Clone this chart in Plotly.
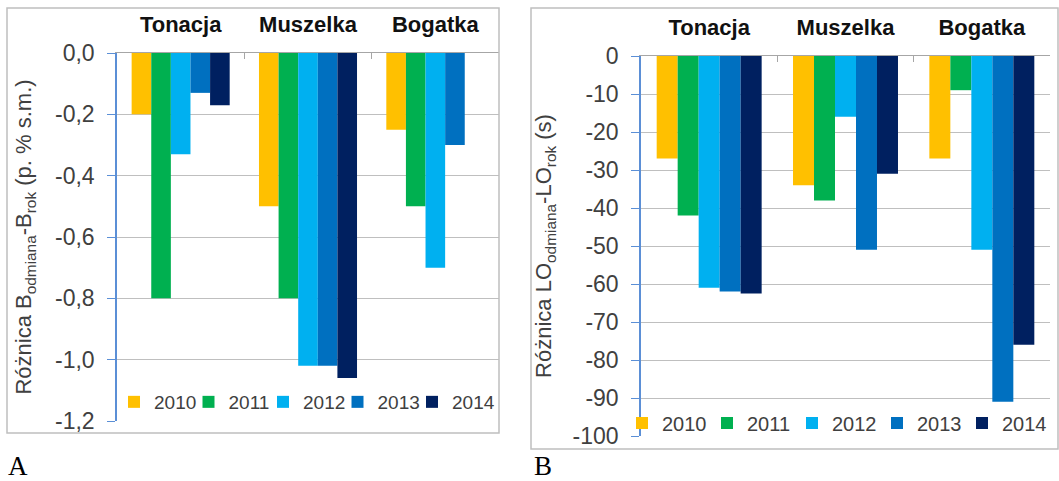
import plotly.graph_objects as go

# ---------------- data ----------------
categories = ["Tonacja", "Muszelka", "Bogatka"]
years = ["2010", "2011", "2012", "2013", "2014"]

# Panel A: Różnica B (p. % s.m.)
a_2010 = [-0.20, -0.50, -0.25]
a_2011 = [-0.80, -0.80, -0.50]
a_2012 = [-0.33, -1.02, -0.70]
a_2013 = [-0.13, -1.02, -0.30]
a_2014 = [-0.17, -1.06, None]

# Panel B: Różnica LO (s)
b_2010 = [-27, -34, -27]
b_2011 = [-42, -38, -9]
b_2012 = [-61, -16, -51]
b_2013 = [-62, -51, -91]
b_2014 = [-62.5, -31, -76]

a_tick_vals = [0, -0.2, -0.4, -0.6, -0.8, -1.0, -1.2]
a_tick_text = ["0,0", "-0,2", "-0,4", "-0,6", "-0,8", "-1,0", "-1,2"]
b_tick_vals = [0, -10, -20, -30, -40, -50, -60, -70, -80, -90, -100]
b_tick_text = ["0", "-10", "-20", "-30", "-40", "-50", "-60", "-70", "-80", "-90", "-100"]

a_title = "Różnica B<sub>odmiana</sub>-B<sub>rok</sub> (p. % s.m.)"
b_title = "Różnica LO<sub>odmiana</sub>-LO<sub>rok</sub> (s)"

colors = ["#FFC000", "#00B050", "#00B0F0", "#0070C0", "#002060"]

# ---------------- figure ----------------
W, H = 1059, 481
FONT = "Liberation Sans, Arial, sans-serif"


def px_x(p):
    return p / W


def px_y(p):
    return 1 - p / H


fig = go.Figure()
a_series = [a_2010, a_2011, a_2012, a_2013, a_2014]
b_series = [b_2010, b_2011, b_2012, b_2013, b_2014]
n = len(years)
for i, (yr, col, va, vb) in enumerate(zip(years, colors, a_series, b_series)):
    last = (i == n - 1)
    fig.add_trace(go.Bar(x=categories, y=va, name=yr, marker_color=col,
                         marker_line_width=0, xaxis="x", yaxis="y",
                         legend="legend",
                         legendwidth=50 if last else None))
    fig.add_trace(go.Bar(x=categories, y=vb, name=yr, marker_color=col,
                         marker_line_width=0, xaxis="x2", yaxis="y2",
                         legend="legend2",
                         legendwidth=52 if last else None))

grid = "#BFBFBF"
axis_blue = "#5B8FD6"
tick_col = "#404040"

xcommon = dict(side="top", showline=True, linecolor="#A6A6A6", linewidth=1,
               ticks="inside", tickson="boundaries", ticklen=6,
               tickcolor="#A6A6A6", showgrid=False, automargin=False,
               tickfont=dict(family=FONT, size=22, color="#111111", weight="bold"),
               ticklabelstandoff=11)
ycommon = dict(showline=True, linecolor=axis_blue, linewidth=1.5,
               ticks="outside", ticklen=8, tickcolor=axis_blue,
               showgrid=True, gridcolor=grid, gridwidth=1, zeroline=False,
               automargin=False, ticklabelstandoff=8,
               tickfont=dict(family=FONT, size=23, color=tick_col))

fig.update_layout(
    width=W, height=H, autosize=False,
    margin=dict(l=0, r=0, t=0, b=0),
    paper_bgcolor="white", plot_bgcolor="white",
    barmode="group", bargap=0.23, bargroupgap=0,
    xaxis=dict(domain=[px_x(117), px_x(499)], anchor="y", **xcommon),
    yaxis=dict(domain=[px_y(421), px_y(53)], anchor="x", range=[-1.2, 0],
               tickvals=a_tick_vals, ticktext=a_tick_text,
               title=dict(text=a_title, standoff=17,
                          font=dict(family=FONT, size=22, color=tick_col)),
               **ycommon),
    xaxis2=dict(domain=[px_x(641), px_x(1050)], anchor="y2", **xcommon),
    yaxis2=dict(domain=[px_y(436), px_y(56)], anchor="x2", range=[-100, 0],
                tickvals=b_tick_vals, ticktext=b_tick_text,
                title=dict(text=b_title, standoff=15,
                           font=dict(family=FONT, size=22, color=tick_col)),
                **ycommon),
    legend=dict(orientation="h", x=px_x(114), xanchor="left",
                y=px_y(402), yanchor="middle", bgcolor="rgba(0,0,0,0)",
                entrywidth=29.5, entrywidthmode="pixels",
                font=dict(family=FONT, size=19, color=tick_col)),
    legend2=dict(orientation="h", x=px_x(622), xanchor="left",
                 y=px_y(423), yanchor="middle", bgcolor="rgba(0,0,0,0)",
                 entrywidth=40, entrywidthmode="pixels",
                 font=dict(family=FONT, size=20, color=tick_col)),
    shapes=[
        dict(type="rect", xref="paper", yref="paper",
             x0=px_x(7), x1=px_x(499), y0=px_y(433), y1=px_y(8),
             line=dict(color="#BFBFBF", width=1.5)),
        dict(type="rect", xref="paper", yref="paper",
             x0=px_x(531), x1=px_x(1058), y0=px_y(449), y1=px_y(8),
             line=dict(color="#BFBFBF", width=1.5)),
    ],
    annotations=[
        dict(text="A", xref="paper", yref="paper", x=px_x(6), y=px_y(466),
             xanchor="left", yanchor="middle", showarrow=False,
             font=dict(family="Liberation Serif, Times New Roman, serif",
                       size=27, color="black")),
        dict(text="B", xref="paper", yref="paper", x=px_x(532), y=px_y(466),
             xanchor="left", yanchor="middle", showarrow=False,
             font=dict(family="Liberation Serif, Times New Roman, serif",
                       size=27, color="black")),
    ],
)

# remove the default 8px page margin so the figure fills the window exactly
fig.write_html("out.html",
               config={"displayModeBar": False},
               post_script="document.body.style.margin='0';"
                           "document.body.style.overflow='hidden';")
